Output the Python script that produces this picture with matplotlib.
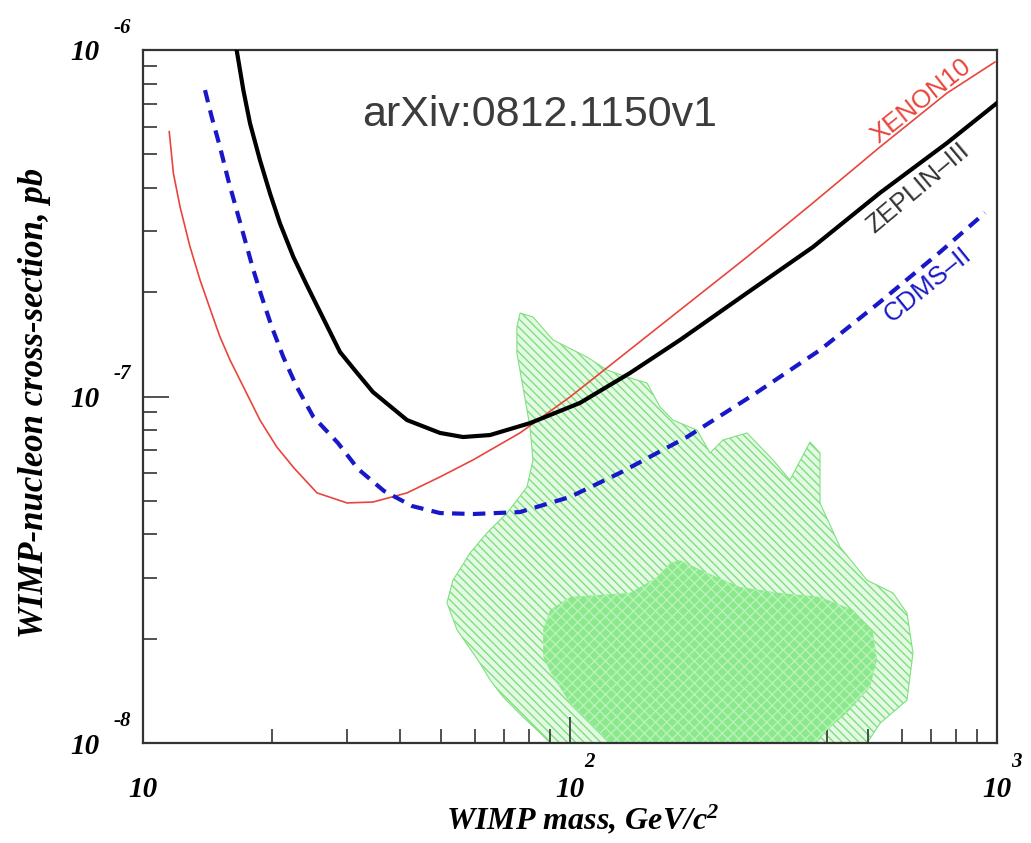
import numpy as np
import matplotlib.pyplot as plt
from matplotlib.ticker import LogLocator, NullFormatter, FuncFormatter

plt.rcParams['mathtext.fontset'] = 'custom'
plt.rcParams['mathtext.rm'] = 'Liberation Serif:bold:italic'
plt.rcParams['mathtext.it'] = 'Liberation Serif:bold:italic'
plt.rcParams['hatch.linewidth'] = 1.0

# XENON10 limit: WIMP mass (GeV/c^2), cross-section (pb)
xenon_mass = [11.52, 11.78, 12.21, 12.88, 13.60, 14.48, 15.14, 15.99, 17.18, 18.79,
              20.56, 22.57, 25.56, 30.05, 34.56, 41.53, 49.61, 59.27, 76.36, 100,
              126.1, 181.0, 259.8, 370.7, 532.2, 763.7, 989]
xenon_xs = [5.81e-7, 4.41e-7, 3.53e-7, 2.71e-7, 2.17e-7, 1.738e-7, 1.488e-7, 1.274e-7,
            1.067e-7, 8.55e-8, 7.16e-8, 6.22e-8, 5.27e-8, 4.93e-8, 4.96e-8, 5.27e-8,
            5.86e-8, 6.56e-8, 7.85e-8, 9.97e-8, 1.249e-7, 1.777e-7, 2.527e-7,
            3.62e-7, 5.25e-7, 7.51e-7, 9.23e-7]

# ZEPLIN-III limit
zeplin_mass = [16.57, 17.18, 17.81, 18.79, 19.83, 20.93, 22.49, 24.17, 26.44, 28.93,
               31.66, 34.56, 41.53, 49.61, 56.16, 64.95, 80.61, 105.5, 138.2, 181.0,
               259.8, 370.7, 532.2, 763.7, 1000]
zeplin_xs = [1e-6, 7.66e-7, 6.14e-7, 4.81e-7, 3.86e-7, 3.16e-7, 2.53e-7, 2.10e-7,
             1.68e-7, 1.344e-7, 1.173e-7, 1.030e-7, 8.55e-8, 7.85e-8, 7.64e-8, 7.74e-8,
             8.38e-8, 9.58e-8, 1.169e-7, 1.456e-7, 1.99e-7, 2.70e-7, 3.87e-7,
             5.39e-7, 7.03e-7]

# CDMS-II limit
cdms_mass = [13.97, 14.48, 15.14, 15.84, 16.57, 17.33, 18.13, 18.97, 20.02, 21.31,
             22.91, 25.05, 28.62, 31.88, 36.67, 42.66, 49.61, 59.27, 76.36, 100,
             130.9, 187.9, 268.3, 385.1, 532.2, 735.4, 937.4]
cdms_xs = [7.66e-7, 6.42e-7, 5.26e-7, 4.21e-7, 3.45e-7, 2.83e-7, 2.32e-7, 1.94e-7,
           1.59e-7, 1.30e-7, 1.067e-7, 8.74e-8, 7.34e-8, 6.18e-8, 5.34e-8, 4.83e-8,
           4.61e-8, 4.58e-8, 4.64e-8, 5.13e-8, 6.02e-8, 7.64e-8, 1.01e-7, 1.362e-7,
           1.874e-7, 2.61e-7, 3.39e-7]

# SUSY allowed region (outer contour)
outer_mass = [76.4, 81.9, 91.3, 109.6, 122.1, 136.0, 151.5, 162.5, 174.2, 198.4, 212.8,
              228.2, 259.8, 298.8, 327.4, 364.8, 385.1, 385.1, 428.9, 496.2, 570.8,
              615.5, 635.8, 615.5, 532.2, 496.2, 89.8, 85.1, 77.6, 69.7, 65.0, 61.5,
              54.4, 51.5, 53.2, 58.3, 63.9, 71.2, 79.3, 81.9, 80.6, 77.6, 75.1, 75.1]
outer_xs = [1.742e-7, 1.696e-7, 1.456e-7, 1.30e-7, 1.193e-7, 1.138e-7, 1.094e-7, 9.33e-8,
            8.55e-8, 8.0e-8, 6.87e-8, 7.49e-8, 7.85e-8, 6.56e-8, 5.74e-8, 7.39e-8,
            6.87e-8, 4.93e-8, 3.68e-8, 2.95e-8, 2.71e-8, 2.37e-8, 1.82e-8, 1.33e-8,
            1.14e-8, 1.0e-8, 1.0e-8, 1.069e-8, 1.189e-8, 1.358e-8, 1.52e-8, 1.702e-8,
            2.12e-8, 2.54e-8, 2.95e-8, 3.53e-8, 4.04e-8, 4.61e-8, 5.48e-8, 6.56e-8,
            8.17e-8, 1.065e-7, 1.335e-7, 1.587e-7]

# SUSY allowed region (inner contour)
inner_mass = [100, 89.8, 86.5, 86.5, 91.3, 100, 111.4, 124.1, 378.9, 399.9, 445.4,
              504.3, 523.6, 512.4, 460.1, 385.1, 310.3, 250.1, 209.4, 181.0, 171.5,
              159.8, 138.2]
inner_xs = [2.64e-8, 2.42e-8, 2.12e-8, 1.77e-8, 1.55e-8, 1.304e-8, 1.142e-8, 1.0e-8,
            1.0e-8, 1.09e-8, 1.221e-8, 1.45e-8, 1.736e-8, 2.08e-8, 2.42e-8, 2.64e-8,
            2.71e-8, 2.82e-8, 3.10e-8, 3.37e-8, 3.31e-8, 3.01e-8, 2.71e-8]

serif = dict(family='Liberation Serif', weight='bold', style='italic')

fig = plt.figure(figsize=(10.31, 8.43), dpi=100)
ax = fig.add_axes([0.1387, 0.1186, 0.8283, 0.8221])

ax.fill(outer_mass, outer_xs, facecolor='#e4fae4', edgecolor='#80e080',
        hatch='\\\\\\\\', lw=0.8, zorder=1)
ax.fill(inner_mass, inner_xs, facecolor='#8ce88c', edgecolor='#b8f3b8',
        hatch='xxx', lw=0, zorder=2)

ax.plot(xenon_mass, xenon_xs, color='#e8453c', lw=1.2, zorder=3)
ax.plot(zeplin_mass, zeplin_xs, color='black', lw=3, zorder=4)
ax.plot(cdms_mass, cdms_xs, color='#1818c8', lw=3, dashes=(3, 2), zorder=5)

ax.set_xscale('log')
ax.set_yscale('log')
ax.set_xlim(10, 1000)
ax.set_ylim(1e-8, 1e-6)

ax.xaxis.set_major_locator(LogLocator(base=10))
ax.yaxis.set_major_locator(LogLocator(base=10))
ax.xaxis.set_minor_formatter(NullFormatter())
ax.yaxis.set_minor_formatter(NullFormatter())
ax.xaxis.set_major_formatter(FuncFormatter(lambda v, p: '10'))
ax.yaxis.set_major_formatter(FuncFormatter(lambda v, p: '10'))

ax.tick_params(which='both', direction='in', top=False, right=False,
               width=1.2, color='#333333')
ax.tick_params(which='major', length=19)
ax.tick_params(which='minor', length=10)
ax.tick_params(axis='y', which='major', pad=31)
ax.tick_params(axis='x', which='major', pad=24)
for lab in ax.get_xticklabels() + ax.get_yticklabels():
    lab.set_fontproperties(serif)
    lab.set_fontsize(21)

for s in ax.spines.values():
    s.set_linewidth(1.6)
    s.set_color('#333333')

# exponents of the tick labels
for val, e in [(1e-6, '-6'), (1e-7, '-7'), (1e-8, '-8')]:
    ax.annotate(e, xy=(0, val), xycoords=('axes fraction', 'data'),
                xytext=(-15, 16), textcoords='offset points', ha='center',
                va='center', fontsize=15, annotation_clip=False, **serif)
for val, e in [(100, '2'), (1000, '3')]:
    ax.annotate(e, xy=(val, 0), xycoords=('data', 'axes fraction'),
                xytext=(14, -14), textcoords='offset points', ha='center',
                va='center', fontsize=15, annotation_clip=False, **serif)

ax.set_xlabel('WIMP mass, GeV/c$^{2}$', fontsize=23, **serif)
ax.set_ylabel('WIMP-nucleon cross-section, pb', fontsize=25, **serif)
ax.xaxis.set_label_coords(0.515, -0.086)
ax.yaxis.set_label_coords(-0.108, 0.49)

ax.text(663, 7.1e-7, 'XENON10', color='#e8453c', fontsize=18.5, rotation=38.5,
        ha='center', va='center', family='Liberation Sans')
ax.text(653, 4.0e-7, 'ZEPLIN\u2013III', color='#333333', fontsize=18.5, rotation=40,
        ha='center', va='center', family='Liberation Sans')
ax.text(689, 2.1e-7, 'CDMS\u2013II', color='#1818c8', fontsize=18.5, rotation=39,
        ha='center', va='center', family='Liberation Sans')

ax.text(0.465, 0.906, 'arXiv:0812.1150v1', transform=ax.transAxes, fontsize=31,
        color='#3c3c3c', ha='center', va='center', family='Liberation Sans')

fig.savefig('out.png', dpi=100)
